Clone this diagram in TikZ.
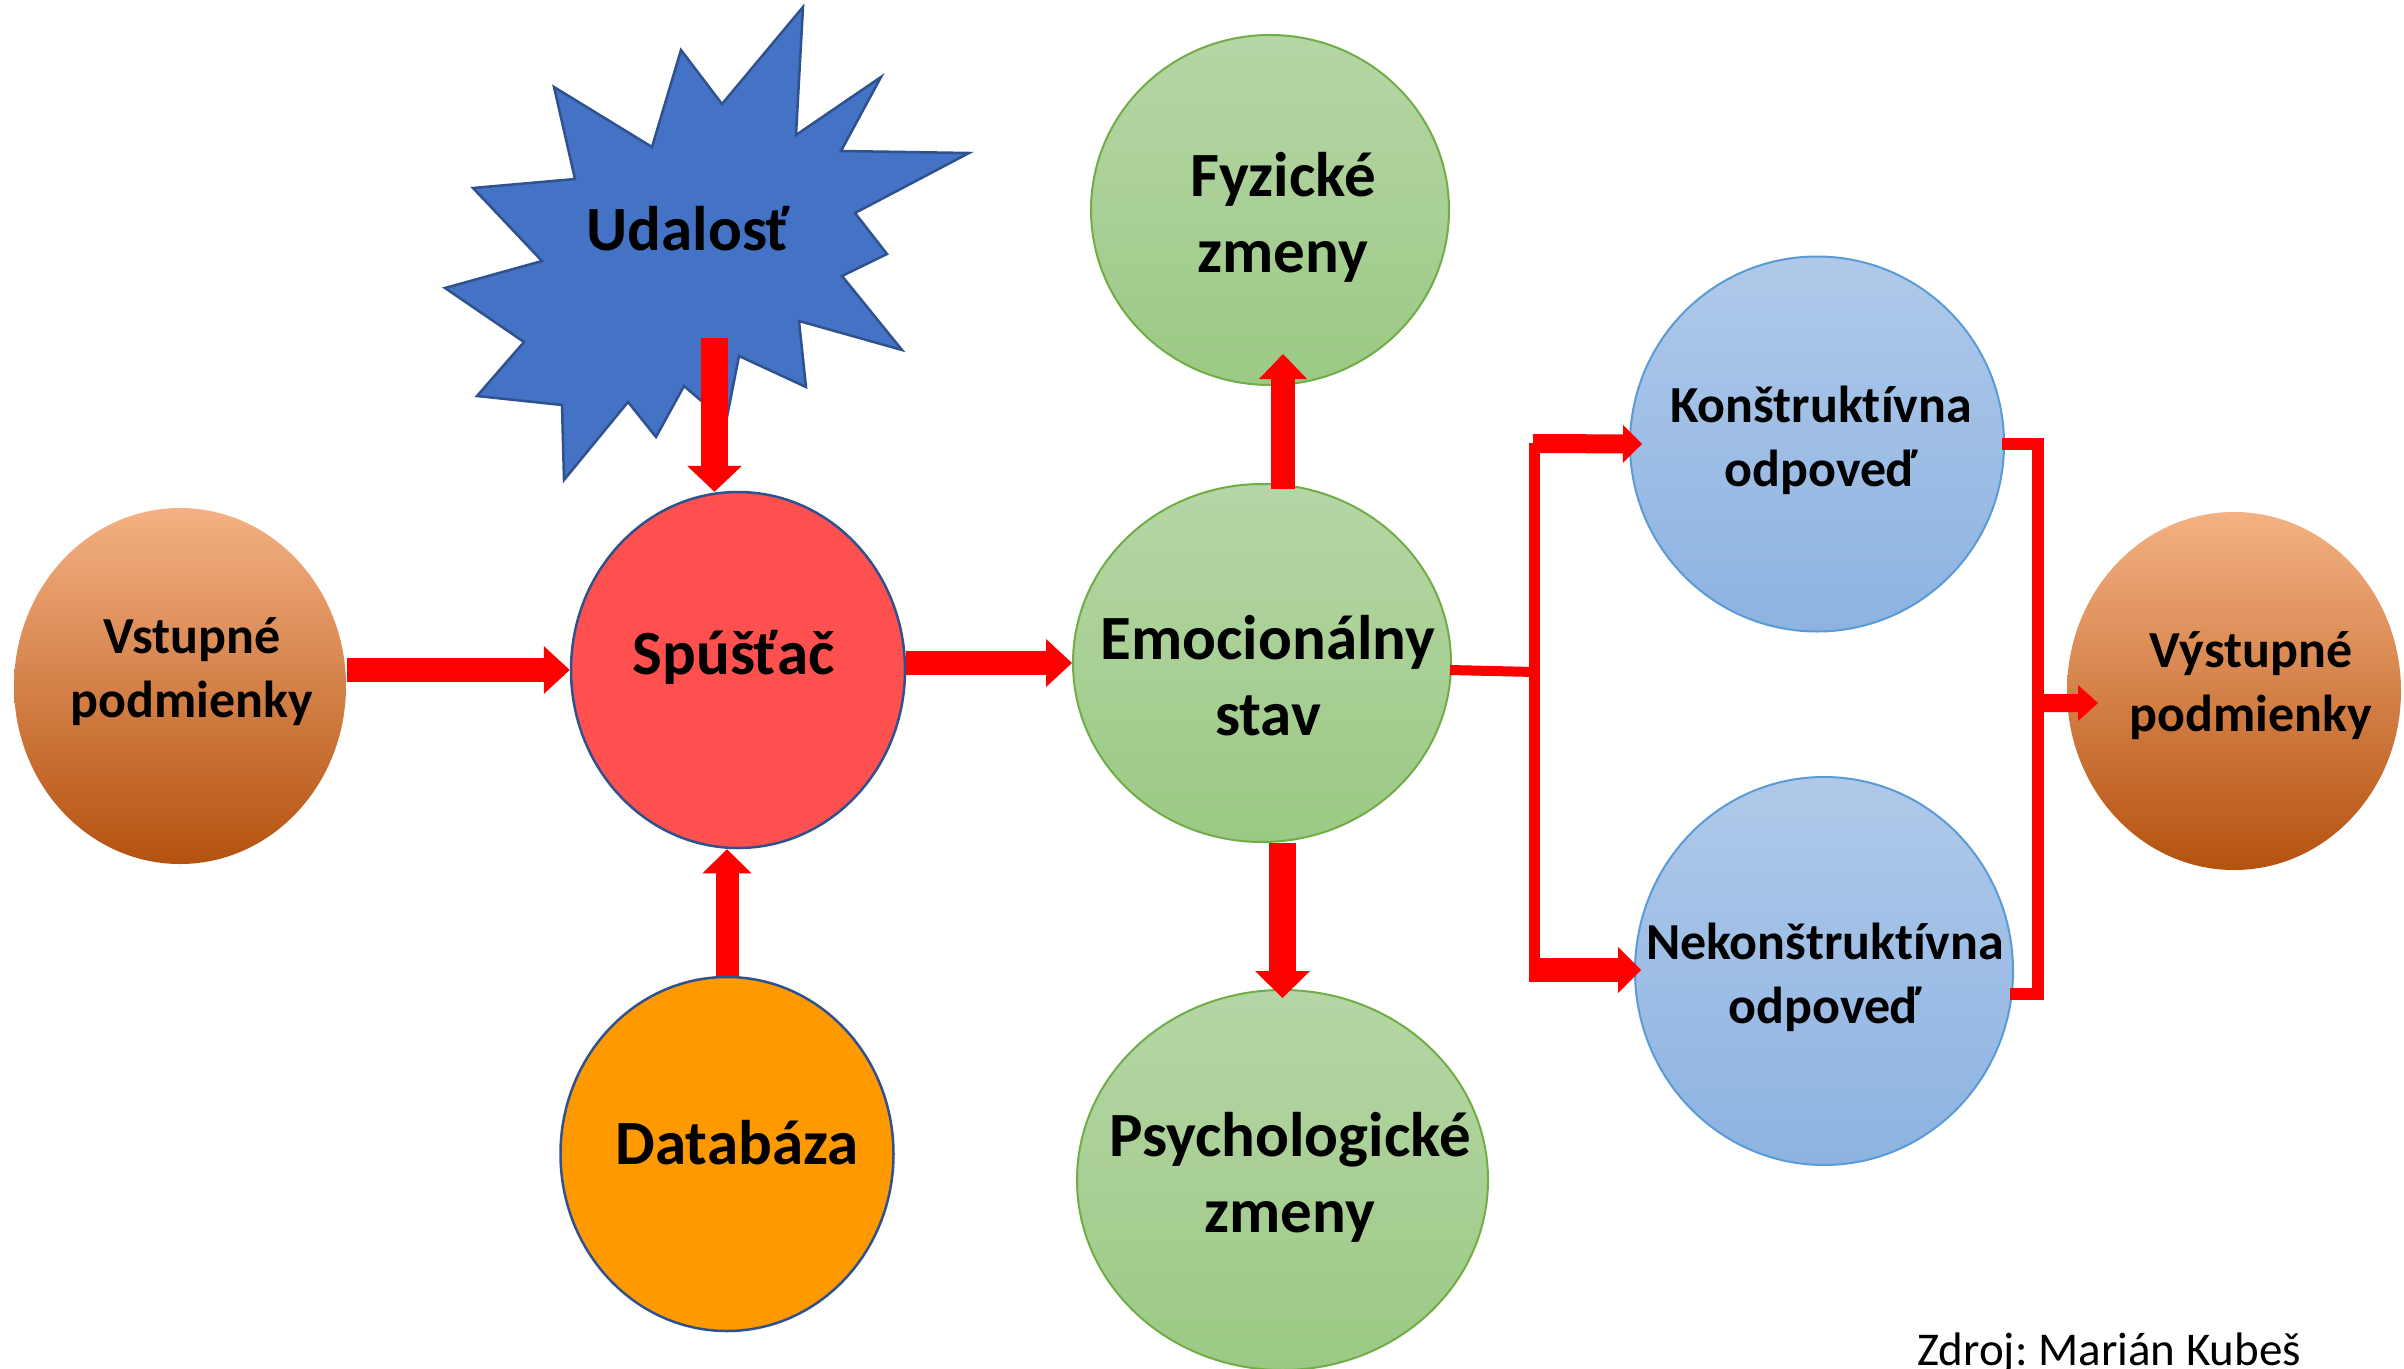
\documentclass[tikz,border=0pt]{standalone}
\usepackage{fontspec}
\setmainfont{Carlito}[Ligatures=NoCommon]
\frenchspacing
\usetikzlibrary{arrows.meta,calc,shapes.geometric}
\definecolor{redA}{HTML}{FF0000}
\definecolor{starfill}{HTML}{4472C4}
\definecolor{stardraw}{HTML}{2F528F}
\definecolor{spufill}{HTML}{FF5050}
\definecolor{datfill}{HTML}{FF9900}
\definecolor{orTop}{HTML}{F4B183}
\definecolor{orMid}{HTML}{EC8340}
\definecolor{orBot}{HTML}{B4520F}
\definecolor{grTop}{HTML}{B5D6A5}
\definecolor{grBot}{HTML}{9CC985}
\definecolor{grLine}{HTML}{70AD47}
\definecolor{blTop}{HTML}{AFC9E9}
\definecolor{blBot}{HTML}{8DB3E2}
\definecolor{blLine}{HTML}{5B9BD5}
\begin{document}
\begin{tikzpicture}[x=1pt,y=-1pt,
  ell/.style={ellipse, inner sep=0pt, line width=2pt},
  orangeell/.style={ell, top color=orTop, middle color=orMid, bottom color=orBot},
  greenell/.style={ell, draw=grLine, top color=grTop, bottom color=grBot},
  blueell/.style={ell, draw=blLine, top color=blTop, bottom color=blBot},
  biglab/.style={align=center, inner sep=0pt, font=\bfseries\fontsize{63}{76}\selectfont},
  smalllab/.style={align=center, inner sep=0pt, font=\bfseries\fontsize{52}{64}\selectfont},
  barrow/.style args={#1/#2/#3}{draw=redA, line width=#1,
     -{Triangle[width=#2, length=#3, line width=0pt]}},
  redline/.style={draw=redA, line width=#1, line join=miter, line cap=butt},
]
\useasboundingbox (0,0) rectangle (2404,1368);
\fill[white] (0,0) rectangle (2404,1368);

% star (event)
\filldraw[fill=starfill, draw=stardraw, line width=2.5pt, line join=miter]
 (803,7) -- (796,135) -- (881,77) -- (841,151) -- (969,153) -- (855,213) -- (887,254)
 -- (842,276) -- (902,350) -- (799,321) -- (806,387) -- (739,356) -- (726,422)
 -- (684,386) -- (656,437) -- (628,402) -- (564,480) -- (562,405) -- (477,396)
 -- (524,342) -- (445,288) -- (542,261) -- (473,188) -- (575,179) -- (554,87)
 -- (652,147) -- (681,50) -- (722,104) -- cycle;
\node[biglab] (ud) at (688,229) {Udalosť};

% ellipses
\node[orangeell, minimum width=332pt, minimum height=356pt] (vst) at (180,686) {};
\node[ell, draw=stardraw, fill=spufill, line width=2.5pt, minimum width=334pt, minimum height=356pt] (spu) at (738,670) {};
\node[ell, draw=stardraw, fill=datfill, line width=2.5pt, minimum width=333pt, minimum height=354pt] (dat) at (727,1154) {};
\node[greenell, minimum width=378pt, minimum height=358pt] (emo) at (1262,663) {};
\node[greenell, minimum width=358pt, minimum height=350pt] (fyz) at (1270,210) {};
\node[greenell, minimum width=411pt, minimum height=380pt] (psy) at (1282.5,1180) {};
\node[blueell, minimum width=374pt, minimum height=375pt] (kon) at (1817,444) {};
\node[blueell, minimum width=378pt, minimum height=388pt] (nek) at (1824,971) {};
\node[orangeell, minimum width=334pt, minimum height=358pt] (vys) at (2234,691) {};

% labels
\node[smalllab] (vst-t) at (192,672) {Vstupné\\podmienky};
\node[biglab] (spu-t) at (734,657) {Spúšťač};
\node[biglab] (dat-t) at (737,1143) {Databáza};
\node[biglab] (emo-t) at (1268,676) {Emocionálny\\stav};
\node[biglab] (fyz-t) at (1283,217) {Fyzické\\zmeny};
\node[biglab] (psy-t) at (1290,1177) {Psychologické\\zmeny};
\node[smalllab] (kon-t) at (1821,440) {Konštruktívna\\odpoveď};
\node[smalllab] (nek-t) at (1825,977) {Nekonštruktívna\\odpoveď};
\node[smalllab] (vys-t) at (2251,686) {Výstupné\\podmienky};
\node[anchor=base west, inner sep=0pt, font=\fontsize{47}{56}\selectfont] (src) at (1917,1365) {Zdroj: Marián Kubeš};

% arrows into trigger
\draw[barrow=27pt/55pt/26pt] ($(ud)+(26.5,109)$) -- ($(spu.north)+(-23.5,1)$);
\draw[barrow=24pt/48pt/26pt] (vst.east |- spu.west) -- (spu.west);
\draw[barrow=23pt/49pt/24pt] (dat.north) -- (dat.north |- spu.south);
\draw[barrow=24pt/48pt/26pt] (spu.east |- emo.west) -- (emo.west);
% emotional state outputs
\draw[barrow=24pt/48pt/25pt] ($(emo.north)+(21,6)$) -- ($(fyz.south)+(13,-32)$);
\draw[barrow=27pt/55pt/27pt] (emo.south -| psy.north) -- ($(psy.north)+(0,9)$);

% branch to responses
\coordinate (jm) at (1534.5,672);
\coordinate (jt) at (1534.5,443);
\coordinate (jb) at (1534.5,982);
\draw[redline=10pt] ($(emo.east)+(-2,7)$) -- (jm);
\draw[redline=11pt] (jt) -- (jb);
\draw[barrow=19pt/38pt/19pt] ($(jt)+(-1.5,0.5)$) -- ($(kon.west)+(13,0)$);
\draw[barrow=24pt/46pt/23pt] ($(jb)+(-5.5,-12)$) -- ($(nek.west)+(7,-1)$);

% merge to output
\coordinate (rt) at (2038,444);
\coordinate (rb) at (2038,994);
\draw[redline=12pt] ($(kon.east)+(-3,0)$) -- (rt) -- (rb) -- ($(nek.east |- rb)+(-4,0)$);
\draw[barrow=18pt/36pt/20pt] ($(rt)!0.471!(rb)$) -- ($(vys.west)+(32,12)$);
\end{tikzpicture}
\end{document}
